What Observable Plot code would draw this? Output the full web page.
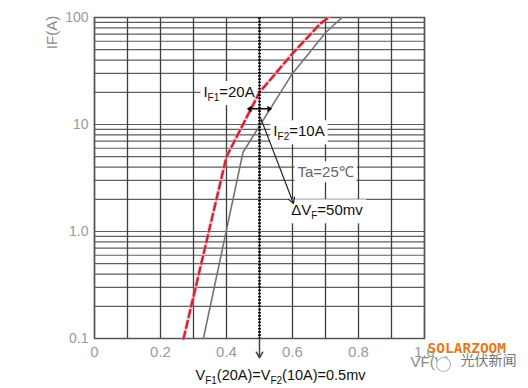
<!DOCTYPE html>
<html><head><meta charset="utf-8">
<script src="https://cdn.jsdelivr.net/npm/d3@7"></script>
<script src="https://cdn.jsdelivr.net/npm/@observablehq/plot@0.6"></script>
<style>body{margin:0;background:#fff;} svg{font-family:"Liberation Sans",Arial,sans-serif;}</style>
</head><body><div id="chart"></div>
<script>
// ---- data ----
const xTicks = [0, 0.2, 0.4, 0.6, 0.8, 1.0];
const xTickLabels = ["0", "0.2", "0.4", "0.6", "0.8", "1.0"];
const yTicks = [0.1, 1, 10, 100];
const yTickLabels = ["0.1", "1.0", "10", "100"];
const xGrid = [0, 0.1, 0.2, 0.3, 0.4, 0.5, 0.6, 0.7, 0.8, 0.9, 1.0];
const yGrid = [0.1, 0.2, 0.3, 0.4, 0.5, 0.6, 0.7, 0.8, 0.9,
               1, 2, 3, 4, 5, 6, 7, 8, 9,
               10, 20, 30, 40, 50, 60, 70, 80, 90, 100];
// IF1 curve (red dashed)
const vf1 = [0.27, 0.40, 0.50, 0.60, 0.685, 0.71];
const if1 = [0.1, 5.0, 20, 46, 88, 100];
// IF2 curve (gray solid)
const vf2 = [0.33, 0.45, 0.60, 0.70, 0.75];
const if2 = [0.1, 5.5, 30, 72, 100];
// annotations
const annoText = ["I_{F1}=20A", "I_{F2}=10A", "Ta=25℃", "ΔV_{F}=50mv"];
const annoX = [0.33, 0.542, 0.615, 0.596];
const annoY = [20, 8.6, 3.56, 1.57];
const annoColor = ["#111", "#111", "#666", "#111"];
const vMark = 0.5;           // VF1(20A)=VF2(10A)
const dvFrom = 0.465, dvTo = 0.535, dvAt = 14; // ΔVF double arrow
const diagFrom = [0.503, 11.6], diagTo = [0.603, 1.83];
const bottomLabel = "V_{F1}(20A)=V_{F2}(10A)=0.5mv";

const curve1 = vf1.map((v, i) => ({v, i: if1[i]}));
const curve2 = vf2.map((v, i) => ({v, i: if2[i]}));
const annos = annoText.map((t, k) => ({t, x: annoX[k], y: annoY[k], c: annoColor[k]}));
const ticksY = yTicks.map((v, k) => ({v, t: yTickLabels[k]}));
const ticksX = xTicks.map((v, k) => ({v, t: xTickLabels[k]}));

const plot = Plot.plot({
  width: 528, height: 388,
  marginLeft: 94, marginRight: 104, marginTop: 17, marginBottom: 50,
  x: {domain: [0, 1], axis: null},
  y: {type: "log", domain: [0.1, 100], axis: null},
  style: {fontFamily: "Liberation Sans, Arial, sans-serif", background: "#fff"},
  marks: [
    Plot.ruleY(yGrid, {stroke: "#5e5e5e", strokeWidth: 1.2}),
    Plot.ruleX(xGrid, {stroke: "#3e3e3e", strokeWidth: 1.3}),
    Plot.frame({stroke: "#555", strokeWidth: 1.5}),
    Plot.text(annos, {x: "x", y: "y", text: "t", fill: "c", textAnchor: "start",
      fontSize: 15, className: "anno"}),
    Plot.text(ticksX, {x: "v", y: () => 0.1, dy: 14, text: "t", fontSize: 15, fill: "#9a9a9a",
      letterSpacing: 1}),
    Plot.text(ticksY, {x: () => 0, y: "v", dx: -6, text: "t", textAnchor: "end", fontSize: 14,
      fill: "#9a9a9a"}),
    Plot.line(curve1, {x: "v", y: "i", stroke: "#f2a6b0", strokeWidth: 4, strokeOpacity: 0.5}),
    Plot.line(curve1, {x: "v", y: "i", stroke: "#cf2338", strokeWidth: 2.4, strokeDasharray: "7,4"}),
    Plot.line(curve2, {x: "v", y: "i", stroke: "#747474", strokeWidth: 1.6}),
    Plot.link([vMark], {x1: d => d, x2: d => d, y1: () => 100, y2: () => 0.1,
      stroke: "#000", strokeWidth: 2.6, strokeDasharray: "1.6,1.6"}),
    Plot.arrow([vMark], {x1: d => d, x2: d => d, y1: () => 0.1, y2: () => 0.066,
      stroke: "#444", strokeWidth: 1.5, headLength: 7}),
    Plot.arrow([dvFrom, dvTo], {x1: () => vMark, x2: d => d, y1: () => dvAt, y2: () => dvAt,
      stroke: "#000", strokeWidth: 1.5, headLength: 6}),
    Plot.arrow([0], {x1: () => diagFrom[0], y1: () => diagFrom[1], x2: () => diagTo[0], y2: () => diagTo[1],
      stroke: "#222", strokeWidth: 1.2, headLength: 8}),
    Plot.text([bottomLabel], {x: () => 0.306, y: () => 0.1, dy: 37, text: d => d,
      textAnchor: "start", fontSize: 14.5, fill: "#111", letterSpacing: -0.3}),
    Plot.text(["IF(A)"], {frameAnchor: "top-left", dx: -42, dy: 15, rotate: -90, text: d => d,
      textAnchor: "middle", lineAnchor: "middle", fontSize: 15, fill: "#8a8a8a"}),
    Plot.text(["VF(V)"], {frameAnchor: "bottom-right", dx: -14, dy: 28, text: d => d,
      textAnchor: "start", fontSize: 15, fill: "#8a8a8a"}),
    Plot.text(["SOLARZOOM"], {frameAnchor: "bottom-right", dx: 3, dy: 14, text: d => d,
      textAnchor: "start", fontSize: 14.5, fontWeight: "bold", fill: "#e5781e", letterSpacing: 0.3,
      fontFamily: "DejaVu Sans Mono, monospace"}),
    Plot.dot([0], {frameAnchor: "bottom-right", dx: 19, dy: 26, r: 7, fill: "#fff", stroke: "#bbb", strokeWidth: 1.2}),
    Plot.text(["光伏新闻"], {frameAnchor: "bottom-right", dx: 36, dy: 26, text: d => d,
      textAnchor: "start", fontSize: 14, fill: "#777",
      fontFamily: "Noto Sans CJK SC, sans-serif"})
  ]
});
document.getElementById("chart").append(plot);

// subscripts
d3.select(plot).selectAll("text").each(function() {
  const el = d3.select(this);
  const s = el.text();
  if (!s.includes("_{")) return;
  el.text(null);
  const parts = s.split(/(_\{[^}]*\})/).filter(p => p.length);
  let shifted = false;
  parts.forEach(p => {
    if (p.startsWith("_{")) {
      el.append("tspan").attr("font-size", 10).attr("dy", shifted ? 0 : 4).text(p.slice(2, -1));
      shifted = true;
    } else {
      el.append("tspan").attr("dy", shifted ? -4 : 0).text(p);
      shifted = false;
    }
  });
});
// white boxes behind in-plot annotations (curves drawn on top)
d3.select(plot).selectAll("g.anno text").each(function() {
  const b = this.getBBox();
  const tr = this.getAttribute("transform");
  const r = document.createElementNS("http://www.w3.org/2000/svg", "rect");
  r.setAttribute("x", b.x - 3); r.setAttribute("y", b.y - 2);
  r.setAttribute("width", b.width + 6); r.setAttribute("height", b.height + 4);
  r.setAttribute("fill", "#fff");
  if (tr) r.setAttribute("transform", tr);
  this.parentNode.insertBefore(r, this);
});
</script>
</body></html>
